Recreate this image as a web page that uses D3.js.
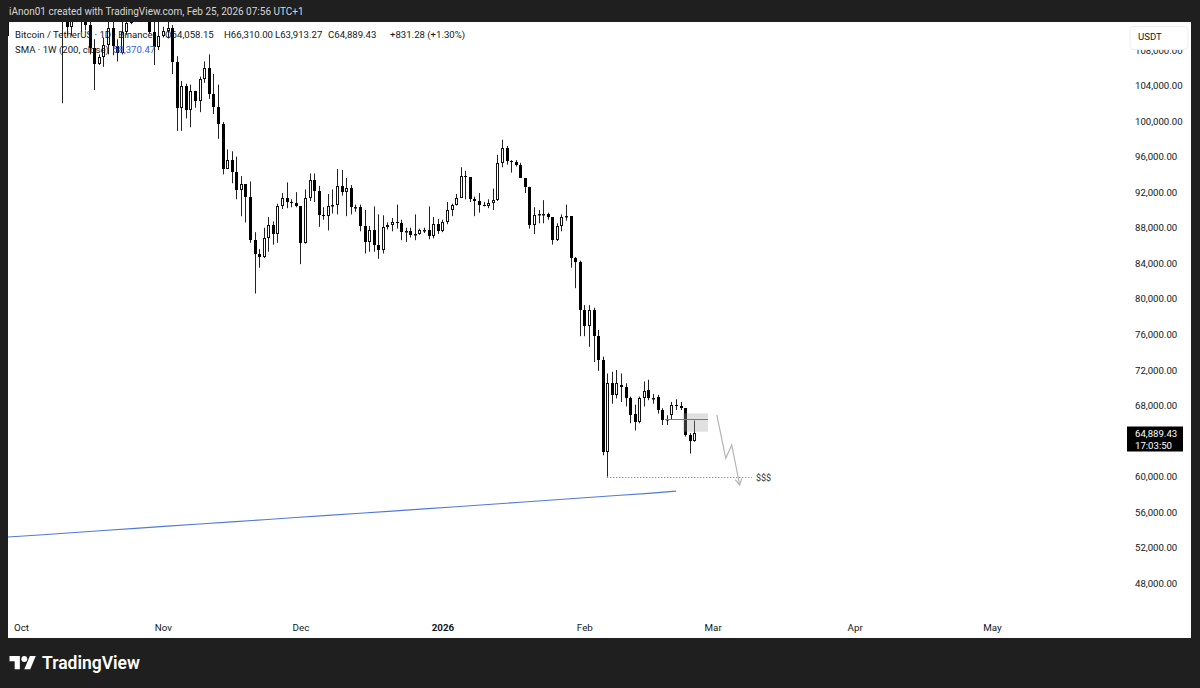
<!DOCTYPE html>
<html><head><meta charset="utf-8">
<script src="https://cdn.jsdelivr.net/npm/d3@7"></script>
<style>
html,body{margin:0;padding:0;background:#1f1f1f;}
svg{display:block;}
text{font-family:Roboto,"Liberation Sans",sans-serif;}
</style></head><body>
<svg id="chart" width="1200" height="688"></svg>
<script>
// ---------- DATA (prices in thousands USDT, daily bars from firstDay) ----------
const firstDay = "2025-09-28";
const opens = [
 109.6,112.1,114.3,
 114.0,118.6,120.6,122.3,122.4,123.5,124.8,121.4,123.3,121.7,113.2,110.6,115.2,115.3,113.0,110.8,108.2,106.4,107.2,108.6,110.5,108.4,107.6,110.0,111.0,111.6,114.5,114.1,112.9,110.0,108.3,
 109.6,110.1,110.5,106.6,101.5,103.9,101.3,103.4,102.3,104.7,106.0,103.0,101.6,99.7,94.6,95.6,94.3,92.2,92.9,91.5,86.6,85.1,84.7,86.8,88.3,87.3,90.5,91.3,90.9,90.8,
 90.4,86.3,91.3,93.4,92.1,89.4,89.3,90.4,90.6,92.7,92.0,92.5,90.3,90.3,88.2,86.4,87.8,86.1,85.5,88.1,88.3,88.6,88.5,87.5,87.6,87.2,87.3,87.8,87.8,87.1,88.4,
 87.6,88.7,90.0,90.6,91.4,93.8,93.7,91.2,91.0,90.6,90.4,90.8,91.1,95.3,97.0,95.5,95.4,95.1,93.6,92.6,88.3,89.4,89.5,89.5,89.2,86.6,88.2,89.2,89.3,84.6,84.2,
 78.8,76.9,78.8,75.8,73.1,62.8,70.5,69.2,70.3,70.1,68.8,67.1,66.2,68.8,69.7,68.8,69.0,67.5,66.4,66.9,68.1,67.9,67.7,64.7,64.05815
];
const highs = [
 112.4,114.4,114.8,
 118.6,121.0,123.9,122.9,125.7,126.2,125.1,124.2,123.8,122.5,113.4,115.8,116.0,115.5,113.6,111.8,109.2,107.5,109.4,111.7,114.0,109.2,111.3,112.0,111.9,115.0,116.4,116.1,113.6,111.6,111.2,
 110.6,111.2,110.8,107.3,104.5,104.2,104.1,103.4,105.0,106.7,107.5,105.3,104.1,99.9,96.8,96.6,96.0,93.8,92.9,93.2,87.5,85.6,88.0,89.2,88.7,90.7,91.9,93.1,91.2,92.0,
 90.4,92.3,94.1,94.1,92.7,90.3,91.8,92.3,94.6,94.5,93.6,92.8,90.6,90.6,90.0,88.2,90.4,89.5,89.4,88.6,89.1,90.6,88.9,88.0,88.0,89.5,87.9,88.0,90.4,89.2,89.0,
 88.9,90.9,90.7,91.8,94.8,94.4,93.7,91.5,91.9,90.9,91.2,92.4,96.2,97.9,97.2,95.6,95.6,95.3,93.6,92.6,90.3,90.0,91.1,89.7,89.2,88.5,89.5,90.6,89.3,84.7,84.3,
 79.3,79.3,79.0,76.5,73.5,71.6,71.8,72.0,71.6,70.5,69.0,68.1,69.0,70.7,70.9,69.3,69.2,67.7,66.9,68.4,68.7,68.4,67.7,64.9,66.31
];
const lows = [
 109.2,111.6,112.7,
 113.9,118.3,119.3,121.2,122.1,123.1,120.6,121.1,119.7,102.0,109.6,109.6,113.9,110.0,110.2,107.5,103.5,106.3,106.1,107.5,107.4,106.7,107.5,109.7,110.9,111.3,113.8,112.2,109.8,106.3,108.0,
 109.4,109.3,105.3,98.9,98.9,100.3,99.3,101.5,101.0,104.3,102.5,100.8,98.0,94.0,94.6,93.0,91.2,89.3,88.6,86.3,80.6,83.5,84.6,85.3,86.1,86.3,90.1,90.2,90.3,90.3,
 83.9,86.2,91.0,90.9,88.1,88.9,87.7,89.6,89.5,91.6,89.3,89.5,89.8,87.6,85.1,85.3,85.3,84.5,85.1,87.8,87.6,87.9,86.6,86.4,86.9,86.6,87.2,87.4,86.7,86.8,87.3,
 87.5,88.4,89.3,90.5,91.4,91.2,90.9,89.3,89.7,90.4,90.2,90.0,91.0,94.8,95.1,94.2,94.9,93.6,91.9,87.9,87.3,88.5,88.5,88.9,86.1,86.5,87.6,88.8,83.5,81.2,75.8,
 75.8,74.6,72.9,71.9,62.4,60.0,68.2,68.8,68.4,67.9,66.0,65.2,66.0,67.9,68.6,68.2,67.1,65.8,65.8,66.4,67.5,67.5,64.5,62.6,63.91327
];
const closes = [
 112.1,114.3,114.0,
 118.6,120.6,122.3,122.4,123.5,124.8,121.4,123.3,121.7,113.2,110.6,115.2,115.3,113.0,110.8,108.2,106.4,107.2,108.6,110.5,108.4,107.6,110.0,111.0,111.6,114.5,114.1,112.9,110.0,108.3,109.6,
 110.1,110.5,106.6,101.5,103.9,101.3,103.4,102.3,104.7,106.0,103.0,101.6,99.7,94.6,95.6,94.3,92.2,92.9,91.5,86.6,85.1,84.7,86.8,88.3,87.3,90.5,91.3,90.9,90.8,90.4,
 86.3,91.3,93.4,92.1,89.4,89.3,90.4,90.6,92.7,92.0,92.5,90.3,90.3,88.2,86.4,87.8,86.1,85.5,88.1,88.3,88.6,88.5,87.5,87.6,87.2,87.3,87.8,87.8,87.1,88.4,87.6,
 88.7,90.0,90.6,91.4,93.8,93.7,91.2,91.0,90.6,90.4,90.8,91.1,95.3,97.0,95.5,95.4,95.1,93.6,92.6,88.3,89.4,89.5,89.5,89.2,86.6,88.2,89.2,89.3,84.6,84.2,78.8,
 76.9,78.8,75.8,73.1,62.8,70.5,69.2,70.5,70.1,68.8,66.9,66.2,68.8,69.6,68.8,68.9,67.5,66.4,66.5,68.1,68.0,67.7,64.7,64.05815,64.88943
];
// 200-week SMA (weekly points)
const smaDates = ["2025-09-21","2025-09-28","2025-10-05","2025-10-12","2025-10-19","2025-10-26","2025-11-02","2025-11-09","2025-11-16","2025-11-23","2025-11-30","2025-12-07","2025-12-14","2025-12-21","2025-12-28","2026-01-04","2026-01-11","2026-01-18","2026-01-25","2026-02-01","2026-02-08","2026-02-15","2026-02-21"];
const smaValues = [52.95,53.20,53.44,53.69,53.94,54.18,54.43,54.67,54.91,55.15,55.40,55.64,55.88,56.12,56.37,56.62,56.87,57.12,57.37,57.62,57.87,58.12,58.37047];
// axis ticks
const priceTicks = [48000,52000,56000,60000,68000,72000,76000,80000,84000,88000,92000,96000,100000,104000,108000];
const timeTickDates = ["2025-10-01","2025-11-01","2025-12-01","2026-01-01","2026-02-01","2026-03-01","2026-04-01","2026-05-01"];
const timeTickLabels = ["Oct","Nov","Dec","2026","Feb","Mar","Apr","May"];
// drawings
const redLine = {from:"2026-02-18T15:00Z", to:"2026-02-28T00:00Z", price:66440};
const grayBox = {from:"2026-02-22T12:00Z", to:"2026-02-28T00:00Z", top:67120, bottom:65050};
const arrowDates = ["2026-03-01T22:00Z","2026-03-03T21:00Z","2026-03-05T04:00Z","2026-03-06T22:00Z"];
const arrowPrices = [66934,62062,63559,59059];
const liquidity = {from:"2026-02-06T00:00Z", to:"2026-03-09T14:00Z", price:60000, label:"$$$"};
const lastPrice = 64889.43, countdown = "17:03:50";

// ---------- SETUP ----------
const svg = d3.select("#chart");
const W = 1200, H = 688;
const panel = {x0:8, y0:22, x1:1191, y1:638};
const plot = {x0:8, y0:22, x1:1113, y1:612};

const x = d3.scaleUtc().domain([new Date("2025-10-01T00:00Z"), new Date("2026-05-01T00:00Z")]).range([21, 992]);
const y = d3.scaleLinear().domain([48000, 104000]).range([583.3, 85.5]);

svg.append("rect").attr("width",W).attr("height",H).attr("fill","#1f1f1f");
svg.append("rect").attr("x",panel.x0).attr("y",panel.y0).attr("width",panel.x1-panel.x0).attr("height",panel.y1-panel.y0).attr("fill","#ffffff");

svg.append("text").attr("x",9).attr("y",15).attr("fill","#d6d6d6").attr("font-size","10px")
  .text("iAnon01 created with TradingView.com, Feb 25, 2026 07:56 UTC+1");

svg.append("clipPath").attr("id","plotclip").append("rect")
  .attr("x",plot.x0).attr("y",plot.y0).attr("width",plot.x1-plot.x0).attr("height",plot.y1-plot.y0);
const g = svg.append("g").attr("clip-path","url(#plotclip)");

// ---------- SMA ----------
const smaData = smaDates.map((d,i)=>({date:new Date(d+"T00:00Z"), v:smaValues[i]*1000}));
g.append("path").datum(smaData)
  .attr("d", d3.line().x(d=>x(d.date)).y(d=>y(d.v)))
  .attr("fill","none").attr("stroke","#5079dc").attr("stroke-width",1.1);

// ---------- CANDLES ----------
const start = new Date(firstDay+"T00:00Z");
const bars = opens.map((o,i)=>({
  date:d3.utcDay.offset(start,i), o:o*1000, h:highs[i]*1000, l:lows[i]*1000, c:closes[i]*1000
}));
const cg = g.append("g");
bars.forEach(b=>{
  const c = Math.round(x(b.date));
  const cx = c + 0.5;
  const top = y(Math.max(b.o,b.c)), bot = y(Math.min(b.o,b.c));
  const up = b.c >= b.o;
  let t = Math.round(top), bt = Math.round(bot);
  if (bt - t < 1) bt = t + 1;
  cg.append("line").attr("x1",cx).attr("x2",cx).attr("y1",y(b.h)).attr("y2",t).attr("stroke","#222").attr("stroke-width",1);
  cg.append("line").attr("x1",cx).attr("x2",cx).attr("y1",bt).attr("y2",y(b.l)).attr("stroke","#222").attr("stroke-width",1);
  if (up) {
    cg.append("rect").attr("x",c-0.5).attr("y",t+0.5).attr("width",2).attr("height",Math.max(bt-t-1,0.5))
      .attr("fill","#ffffff").attr("stroke","#111").attr("stroke-width",1);
  } else {
    cg.append("rect").attr("x",c-1).attr("y",t).attr("width",3).attr("height",bt-t).attr("fill","#000");
  }
});

// ---------- DRAWINGS ----------
g.append("rect")
  .attr("x",x(new Date(grayBox.from))).attr("y",y(grayBox.top))
  .attr("width",x(new Date(grayBox.to))-x(new Date(grayBox.from)))
  .attr("height",y(grayBox.bottom)-y(grayBox.top))
  .attr("fill","rgba(160,160,160,0.32)");
g.append("line")
  .attr("x1",x(new Date(redLine.from))).attr("x2",x(new Date(redLine.to)))
  .attr("y1",Math.round(y(redLine.price))+0.5).attr("y2",Math.round(y(redLine.price))+0.5)
  .attr("stroke","#e84a4a").attr("stroke-width",1);
const ly = Math.round(y(liquidity.price))+0.5;
g.append("line")
  .attr("x1",x(new Date(liquidity.from))).attr("x2",x(new Date(liquidity.to)))
  .attr("y1",ly).attr("y2",ly)
  .attr("stroke","#666").attr("stroke-width",1).attr("stroke-dasharray","1,2");
g.append("text").attr("x",x(new Date(liquidity.to))+4).attr("y",ly).attr("dy","0.35em")
  .attr("font-size","9px").attr("fill","#333").text(liquidity.label);

const arrowPts = arrowDates.map((d,i)=>[x(new Date(d)), y(arrowPrices[i])]);
g.append("path").attr("d", d3.line()(arrowPts)).attr("fill","none").attr("stroke","#b5b5b5").attr("stroke-width",1.2);
{
  const [ax,ay] = arrowPts[arrowPts.length-1];
  const [px,py] = arrowPts[arrowPts.length-2];
  const ang = Math.atan2(ay-py, ax-px);
  const L = 7, spread = 0.5;
  const p1 = [ax - L*Math.cos(ang-spread), ay - L*Math.sin(ang-spread)];
  const p2 = [ax - L*Math.cos(ang+spread), ay - L*Math.sin(ang+spread)];
  g.append("path").attr("d", d3.line()([p1,[ax,ay],p2])).attr("fill","none").attr("stroke","#b5b5b5").attr("stroke-width",1.2);
}

// ---------- AXES ----------
const fmtPrice = d3.format(",.2f");
const ya = svg.append("g").attr("transform","translate(1135,0)")
  .call(d3.axisRight(y).tickValues(priceTicks).tickSize(0).tickPadding(0).tickFormat(fmtPrice));
ya.select(".domain").remove();
ya.selectAll("text").attr("font-size","9.6px").attr("fill","#131722").attr("font-family","Roboto,'Liberation Sans',sans-serif");

const xa = svg.append("g").attr("transform","translate(0,624)")
  .call(d3.axisBottom(x).tickValues(timeTickDates.map(d=>new Date(d+"T00:00Z"))).tickSize(0).tickPadding(0)
    .tickFormat((d,i)=>timeTickLabels[i]));
xa.select(".domain").remove();
xa.selectAll("text").attr("font-size","9.8px").attr("fill","#131722").attr("font-family","Roboto,'Liberation Sans',sans-serif")
  .attr("font-weight",(d,i)=>timeTickLabels[i]==="2026"?"bold":"normal");

// USDT currency box
svg.append("rect").attr("x",1130).attr("y",26.5).attr("width",58).attr("height",23).attr("rx",4)
  .attr("fill","#ffffff").attr("stroke","#eceef2");
svg.append("text").attr("x",1138).attr("y",37).attr("dy","0.35em").attr("font-size","9.6px").attr("fill","#131722").text("USDT");

// last price label
svg.append("rect").attr("x",1127).attr("y",426.5).attr("width",56).attr("height",25).attr("fill","#000");
svg.append("text").attr("x",1135).attr("y",434).attr("dy","0.35em").attr("font-size","9.6px").attr("fill","#fff").text(fmtPrice(lastPrice));
svg.append("text").attr("x",1135).attr("y",445.5).attr("dy","0.35em").attr("font-size","9.6px").attr("fill","#fff").text(countdown);

// ---------- LEGEND ----------
const leg = svg.append("g").attr("font-size","9.6px").attr("fill","#131722");
const oi = opens.length-1;
const chg = closes[oi]*1000 - closes[oi-1]*1000;
const legendParts = [
  {x:15, t:"Bitcoin / TetherUS · 1D · Binance"},
  {x:165, t:"O"+fmtPrice(opens[oi]*1000)},
  {x:224, t:"H"+fmtPrice(highs[oi]*1000)},
  {x:275, t:"L"+fmtPrice(lows[oi]*1000)},
  {x:328, t:"C"+fmtPrice(closes[oi]*1000)},
  {x:390, t:"+"+fmtPrice(chg)+" (+"+d3.format(".2f")(chg/(closes[oi-1]*1000)*100)+"%)"}
];
legendParts.forEach(p=>leg.append("text").attr("x",p.x).attr("y",35).attr("dy","0.35em").text(p.t));
leg.append("text").attr("x",15).attr("y",49.5).attr("dy","0.35em").text("SMA · 1W (200, close)");
leg.append("text").attr("x",113).attr("y",49.5).attr("dy","0.35em").attr("fill","#2f62e0").text(fmtPrice(smaValues[smaValues.length-1]*1000));

// ---------- TradingView logo ----------
const logo = svg.append("g").attr("transform","translate(9.5,653) scale(0.74)").attr("fill","#ffffff");
logo.append("path").attr("d","M14 22H7V11H0V4h14v18zM28 22h-8l7.5-18h8L28 22z");
logo.append("circle").attr("cx",20).attr("cy",8).attr("r",4);
svg.append("text").attr("x",42).attr("y",663).attr("dy","0.35em").attr("font-family","Inter,Roboto,sans-serif")
  .attr("font-weight",600).attr("font-size","17.5px").attr("fill","#ffffff").text("TradingView");
</script></body></html>
